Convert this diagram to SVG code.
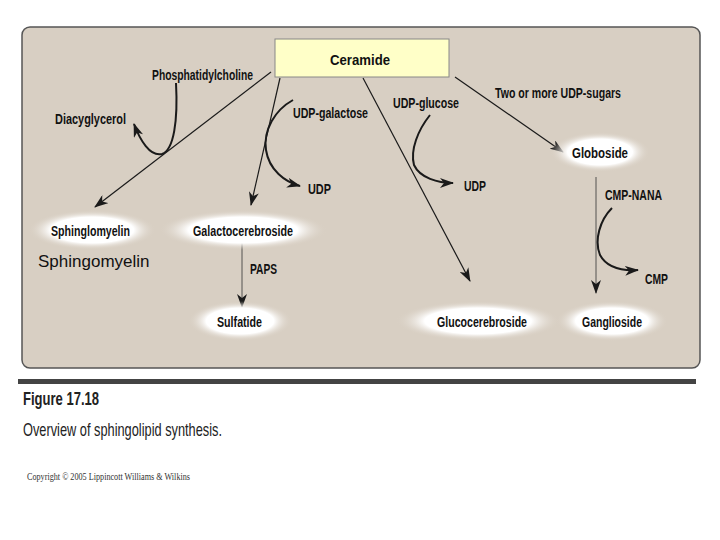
<svg xmlns="http://www.w3.org/2000/svg" width="720" height="540" viewBox="0 0 720 540">
<style>
.lbl{font-family:"Liberation Sans",Arial,sans-serif;font-weight:bold;font-size:14.5px;fill:#111}
.ln{fill:none;stroke:#1a1a1a;stroke-width:1.2}
.cv{fill:none;stroke:#1a1a1a;stroke-width:2}
.thin{fill:none;stroke:#333;stroke-width:0.8}
</style>
<defs>
<radialGradient id="glow">
<stop offset="0" stop-color="#ffffff"/>
<stop offset="0.65" stop-color="#ffffff"/>
<stop offset="1" stop-color="#d8cfc3" stop-opacity="0"/>
</radialGradient>
<marker id="ah" markerWidth="14" markerHeight="10" refX="13" refY="5" orient="auto" markerUnits="userSpaceOnUse">
<path d="M0,0 L14,5 L0,10 L4,5 z" fill="#1a1a1a"/>
</marker>
</defs>
<rect width="720" height="540" fill="#ffffff"/>
<rect x="22" y="27" width="678" height="341" rx="8" fill="#d8cfc3" stroke="#555" stroke-width="1.5"/>

<g id="connectors">
<line class="ln" x1="271" y1="72" x2="95" y2="207" marker-end="url(#ah)"/>
<line class="ln" x1="280" y1="78" x2="251" y2="205" marker-end="url(#ah)"/>
<line class="ln" x1="363" y1="78" x2="470" y2="281" marker-end="url(#ah)"/>
<line class="ln" x1="455" y1="77" x2="563" y2="152" marker-end="url(#ah)"/>
<line class="thin" x1="596" y1="177" x2="596" y2="293" marker-end="url(#ah)"/>
<line class="thin" x1="242" y1="243" x2="242" y2="307" marker-end="url(#ah)"/>
<path class="cv" d="M176,83 C178,120 174,150 162,154 C150,157 140,140 134,124" marker-end="url(#ah)"/>
<path class="cv" d="M293,100 C275,110 263,130 266,150 C269,170 285,182 300,186" marker-end="url(#ah)"/>
<path class="cv" d="M430,115 C418,130 410,150 414,165 C420,178 438,183 453,183" marker-end="url(#ah)"/>
<path class="cv" d="M612,208 C600,220 594,240 600,255 C607,268 622,271 638,270" marker-end="url(#ah)"/>
</g>

<g id="ceramide">
<rect x="275" y="39" width="174" height="38" fill="#ffffc8" stroke="#888" stroke-width="1"/>
<text class="lbl" x="330" y="65" font-size="20" textLength="60" lengthAdjust="spacingAndGlyphs">Ceramide</text>
</g>
<g id="phosphatidylcholine"><text class="lbl" x="152" y="80" textLength="101" lengthAdjust="spacingAndGlyphs">Phosphatidylcholine</text></g>
<g id="diacyglycerol"><text class="lbl" x="55" y="124" textLength="71" lengthAdjust="spacingAndGlyphs">Diacyglycerol</text></g>
<g id="udp-galactose"><text class="lbl" x="293" y="118" textLength="75" lengthAdjust="spacingAndGlyphs">UDP-galactose</text></g>
<g id="udp1"><text class="lbl" x="308" y="194" textLength="23" lengthAdjust="spacingAndGlyphs">UDP</text></g>
<g id="udp-glucose"><text class="lbl" x="393" y="108" textLength="66" lengthAdjust="spacingAndGlyphs">UDP-glucose</text></g>
<g id="udp2"><text class="lbl" x="464" y="191" textLength="22" lengthAdjust="spacingAndGlyphs">UDP</text></g>
<g id="udp-sugars"><text class="lbl" x="495" y="98" textLength="126" lengthAdjust="spacingAndGlyphs">Two or more UDP-sugars</text></g>
<g id="globoside">
<ellipse cx="600" cy="152" rx="50" ry="20" fill="url(#glow)"/>
<text class="lbl" x="572" y="158" textLength="56" lengthAdjust="spacingAndGlyphs">Globoside</text>
</g>
<g id="cmp-nana"><text class="lbl" x="605" y="200" textLength="57" lengthAdjust="spacingAndGlyphs">CMP-NANA</text></g>
<g id="cmp"><text class="lbl" x="645" y="284" textLength="23" lengthAdjust="spacingAndGlyphs">CMP</text></g>
<g id="sphinglomyelin">
<ellipse cx="92" cy="230" rx="64" ry="20" fill="url(#glow)"/>
<text class="lbl" x="51" y="236" textLength="79" lengthAdjust="spacingAndGlyphs">Sphinglomyelin</text>
</g>
<g id="galactocerebroside">
<ellipse cx="243" cy="230" rx="84" ry="20" fill="url(#glow)"/>
<text class="lbl" x="193" y="236" textLength="100" lengthAdjust="spacingAndGlyphs">Galactocerebroside</text>
</g>
<g id="sphingomyelin"><text x="38" y="267" font-family="Liberation Sans,Arial,sans-serif" font-size="17" fill="#111">Sphingomyelin</text></g>
<g id="paps"><text class="lbl" x="250" y="274" textLength="27" lengthAdjust="spacingAndGlyphs">PAPS</text></g>
<g id="sulfatide">
<ellipse cx="240" cy="321" rx="52" ry="20" fill="url(#glow)"/>
<text class="lbl" x="217" y="327" textLength="45" lengthAdjust="spacingAndGlyphs">Sulfatide</text>
</g>
<g id="glucocerebroside">
<ellipse cx="478" cy="321" rx="82" ry="20" fill="url(#glow)"/>
<text class="lbl" x="437" y="327" textLength="90" lengthAdjust="spacingAndGlyphs">Glucocerebroside</text>
</g>
<g id="ganglioside">
<ellipse cx="612" cy="321" rx="56" ry="20" fill="url(#glow)"/>
<text class="lbl" x="582" y="327" textLength="60" lengthAdjust="spacingAndGlyphs">Ganglioside</text>
</g>

<g id="caption">
<rect x="18" y="379" width="678" height="5" fill="#444"/>
<text x="23" y="405" font-family="Liberation Sans,Arial,sans-serif" font-weight="bold" font-size="19" fill="#222" textLength="76" lengthAdjust="spacingAndGlyphs">Figure 17.18</text>
<text x="23" y="436" font-family="Liberation Sans,Arial,sans-serif" font-size="19" fill="#222" textLength="199" lengthAdjust="spacingAndGlyphs">Overview of sphingolipid synthesis.</text>
<text x="27" y="480" font-family="Liberation Serif,Times New Roman,serif" font-size="10" fill="#333" textLength="163" lengthAdjust="spacingAndGlyphs">Copyright © 2005 Lippincott Williams &amp; Wilkins</text>
</g>
</svg>
